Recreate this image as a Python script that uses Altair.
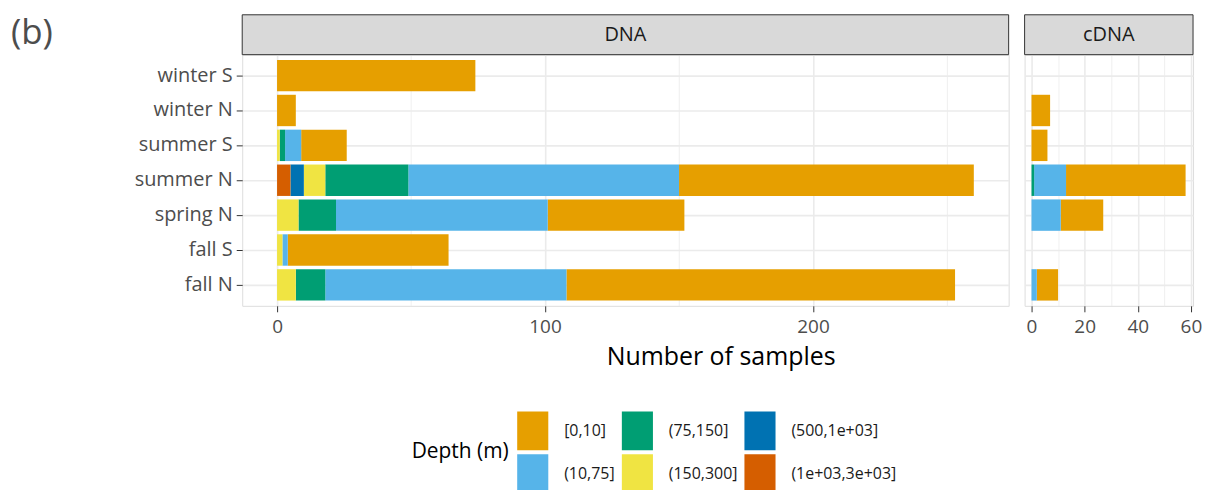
import altair as alt
import pandas as pd

groups = ["winter S", "winter N", "summer S", "summer N", "spring N", "fall S", "fall N"]
depths = ["[0,10]", "(10,75]", "(75,150]", "(150,300]", "(500,1e+03]", "(1e+03,3e+03]"]
colors = ["#E69F00", "#56B4E9", "#009E73", "#F0E442", "#0072B2", "#D55E00"]

# DNA counts per depth class, in the order of `groups`
dna_0_10 = [74, 7, 17, 110, 51, 60, 145]
dna_10_75 = [0, 0, 6, 101, 79, 2, 90]
dna_75_150 = [0, 0, 2, 31, 14, 0, 11]
dna_150_300 = [0, 0, 1, 8, 8, 2, 7]
dna_500_1e3 = [0, 0, 0, 5, 0, 0, 0]
dna_1e3_3e3 = [0, 0, 0, 5, 0, 0, 0]

# cDNA counts per depth class
cdna_0_10 = [0, 7, 6, 45, 16, 0, 8]
cdna_10_75 = [0, 0, 0, 12, 11, 0, 2]
cdna_75_150 = [0, 0, 0, 1, 0, 0, 0]
cdna_150_300 = [0, 0, 0, 0, 0, 0, 0]
cdna_500_1e3 = [0, 0, 0, 0, 0, 0, 0]
cdna_1e3_3e3 = [0, 0, 0, 0, 0, 0, 0]

dna_series = [dna_0_10, dna_10_75, dna_75_150, dna_150_300, dna_500_1e3, dna_1e3_3e3]
cdna_series = [cdna_0_10, cdna_10_75, cdna_75_150, cdna_150_300, cdna_500_1e3, cdna_1e3_3e3]

dna_ticks = [0, 50, 100, 150, 200, 250]
cdna_ticks = [0, 10, 20, 30, 40, 50, 60]

legend_order = ["[0,10]", "(75,150]", "(500,1e+03]", "(10,75]", "(150,300]", "(1e+03,3e+03]"]
legend_colors = [colors[depths.index(d)] for d in legend_order]


def make_df(series, panel):
    rows = []
    for di, (d, vals) in enumerate(zip(depths, series)):
        for g, v in zip(groups, vals):
            if v > 0:
                rows.append({"group": g, "depth": d, "n": v, "ord": di, "panel": panel})
    return pd.DataFrame(rows)


FONT = "Open Sans"
H = 252
W1 = 769
W2 = 169

color_enc = alt.Color(
    "depth:N",
    scale=alt.Scale(domain=legend_order, range=legend_colors),
    legend=alt.Legend(
        title="Depth (m)",
        orient="none",
        legendX=170,
        legendY=358,
        columns=3,
        direction="horizontal",
        titleOrient="left",
        titleAnchor="middle",
        titleBaseline="middle",
        titleFontSize=21,
        titleFontWeight="normal",
        titleColor="#000000",
        titleFont=FONT,
        titlePadding=4,
        labelFontSize=16,
        labelFont=FONT,
        labelColor="#1A1A1A",
        labelOffset=12,
        symbolType="M-0.8,-1H0.8V1H-0.8Z",
        symbolSize=1521,
        symbolStrokeWidth=0,
        symbolOpacity=1,
        rowPadding=4,
        columnPadding=3,
        padding=0,
    ),
)


def panel(series, name, domain, width, ticks, major, first):
    df = make_df(series, name)
    xaxis = alt.Axis(
        values=ticks,
        labelExpr=f"datum.value % {major} === 0 ? datum.label : ''",
        tickOpacity={"condition": {"test": f"datum.value % {major} !== 0", "value": 0}, "value": 1},
        gridWidth={"condition": {"test": f"datum.value % {major} !== 0", "value": 0.8}, "value": 1.6},
        grid=True,
        gridColor="#EBEBEB",
        domain=False,
        tickColor="#333333",
        tickSize=6,
        labelFontSize=19,
        labelFont=FONT,
        labelColor="#4D4D4D",
        labelPadding=6,
        title="Number of samples" if first else None,
        titleFontSize=25,
        titleFont=FONT,
        titleFontWeight="normal",
        titleColor="#000000",
        titlePadding=8,
        **({"titleX": 480} if first else {}),
    )
    if first:
        yaxis = alt.Axis(
            title=None, grid=True, gridColor="#EBEBEB", gridWidth=1.6, domain=False,
            bandPosition=0.5, tickColor="#333333", tickSize=6, labelFontSize=20,
            labelFont=FONT, labelColor="#4D4D4D", labelPadding=4,
        )
    else:
        yaxis = alt.Axis(
            title=None, grid=True, gridColor="#EBEBEB", gridWidth=1.6, domain=False,
            bandPosition=0.5, ticks=False, labels=False,
        )
    bars = alt.Chart(df).mark_bar(strokeWidth=0).encode(
        x=alt.X("n:Q", stack="zero", scale=alt.Scale(domain=domain, nice=False, zero=False), axis=xaxis),
        y=alt.Y("group:N", sort=groups, scale=alt.Scale(domain=groups, paddingInner=0.1, paddingOuter=0.15), axis=yaxis),
        color=color_enc,
        order=alt.Order("ord:Q", sort="descending"),
    )
    strip_df = pd.DataFrame({"label": [name]})
    strip = alt.Chart(strip_df).mark_rect(fill="#D9D9D9", stroke="#333333", strokeWidth=1).encode(
        x=alt.value(0), x2=alt.value(width), y=alt.value(-40), y2=alt.value(0)
    )
    strip_text = alt.Chart(strip_df).mark_text(fontSize=20, font=FONT, color="#1A1A1A").encode(
        x=alt.value(width / 2), y=alt.value(-20), text="label:N"
    )
    layers = [bars, strip, strip_text]
    if first:
        tag = alt.Chart(pd.DataFrame({"t": ["(b)"]})).mark_text(
            fontSize=35, font=FONT, color="#4D4D4D", align="left", baseline="middle"
        ).encode(x=alt.value(-232), y=alt.value(-22), text="t:N")
        layers.append(tag)
    return alt.layer(*layers).properties(width=width, height=H)


dna = panel(dna_series, "DNA", [-13, 273], W1, dna_ticks, 100, True)
cdna = panel(cdna_series, "cDNA", [-2.6, 60.8], W2, cdna_ticks, 20, False)

chart = alt.hconcat(dna, cdna, spacing=14).properties(
    padding={"left": 2, "top": 5, "right": 0, "bottom": 0}
).configure_view(stroke="#333333", strokeWidth=1).configure(font=FONT)

chart.save("out.html", embed_options={"renderer": "svg", "actions": False})
